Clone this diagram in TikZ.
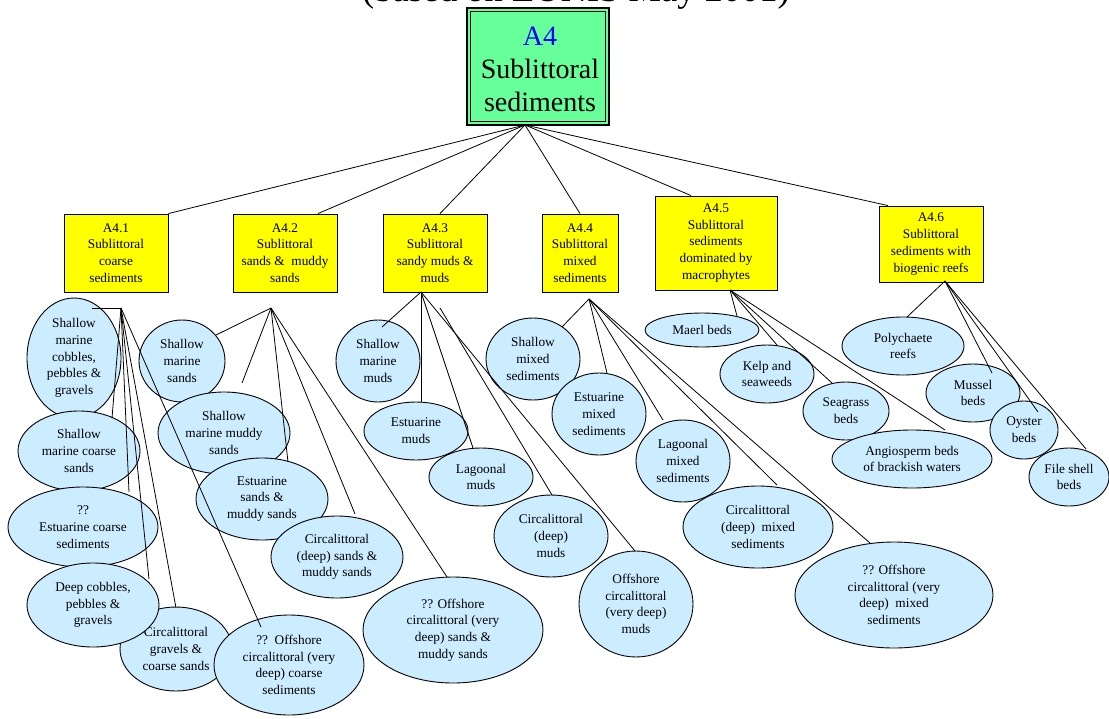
\documentclass[tikz,border=0pt]{standalone}
\usepackage{fontspec}
\setmainfont{Liberation Serif}
\usetikzlibrary{shapes.geometric}
\definecolor{boxgreen}{HTML}{66FF99}
\definecolor{boxyellow}{HTML}{FFFF00}
\definecolor{blobblue}{HTML}{CCECFF}
\definecolor{codeblue}{HTML}{0000FF}
\newcommand\habitat[6]{%
  \node[blob, minimum width=#4pt, minimum height=#5pt] (#1) at (#2,#3) {};
  \node[blobtext] (#1-t) at (#1) {#6};}
\begin{document}
\begin{tikzpicture}[x=1pt,y=-1pt,
  catbox/.style={draw=black, fill=boxyellow, line width=0.9pt, inner sep=0pt, align=center,
    font=\fontsize{13.3}{16.7}\selectfont},
  blob/.style={ellipse, draw=black, fill=blobblue, line width=0.9pt, inner sep=0pt, outer sep=0pt},
  blobtext/.style={align=center, inner sep=0pt, font=\fontsize{13.3}{16.7}\selectfont},
  link/.style={draw=black, line width=0.8pt},
]
\useasboundingbox (0,0) rectangle (1109,718);

% title (cut off at the top)
\begin{scope}
\clip (0,0) rectangle (1109,718);
\node[anchor=base, inner sep=0pt, font=\fontsize{36.5}{40}\selectfont] (title) at (576,1.5) {(based on EUNIS May 2001)};
\end{scope}

% top box
\node[draw=black, fill=boxgreen, line width=1.3pt, minimum width=142pt, minimum height=117pt, inner sep=0pt] (a4) at (538,66.5) {};
\draw[line width=1.1pt] ([shift={(4,4)}]a4.north west) rectangle ([shift={(-4,-4)}]a4.south east);
\node[align=center, inner sep=0pt, font=\fontsize{28}{33}\selectfont] (a4t) at (540,69) {\textcolor{codeblue}{A4}\\Sublittoral\\sediments};

% category boxes
\node[catbox, minimum width=104pt, minimum height=78pt] (y1) at (116,253) {A4.1\\Sublittoral\\coarse\\sediments};
\node[catbox, minimum width=104pt, minimum height=78pt] (y2) at (285,253) {A4.2\\Sublittoral\\sands \&\ \ muddy\\sands};
\node[catbox, minimum width=104pt, minimum height=78pt] (y3) at (435,253) {A4.3\\Sublittoral\\sandy muds \&\\muds};
\node[catbox, minimum width=76pt, minimum height=78pt] (y4) at (580,253) {A4.4\\Sublittoral\\mixed\\sediments};
\node[catbox, minimum width=122pt, minimum height=94pt] (y5) at (716,243) {A4.5\\Sublittoral\\sediments\\dominated by\\macrophytes};
\node[catbox, minimum width=104pt, minimum height=76pt] (y6) at (931,244) {A4.6\\Sublittoral\\sediments with\\biogenic reefs};

% column 1
\habitat{c1a}{74}{358}{94}{120}{Shallow\\marine\\cobbles,\\pebbles \&\\gravels}
\habitat{c1b}{79}{451}{122}{80}{Shallow\\marine coarse\\sands}
\habitat{c1c}{83}{527}{150}{80}{??\\Estuarine coarse\\sediments}
\habitat{c1e}{176}{649}{112}{84}{Circalittoral\\gravels \&\\coarse sands}
\habitat{c1d}{93}{605}{132}{84}{Deep cobbles,\\pebbles \&\\gravels}
\habitat{c1f}{289}{665}{150}{100}{??\ \ Offshore\\circalittoral (very\\deep) coarse\\sediments}

% column 2
\habitat{c2a}{182}{361}{86}{82}{Shallow\\marine\\sands}
\habitat{c2b}{224}{433}{132}{82}{Shallow\\marine muddy\\sands}
\habitat{c2c}{262}{499}{132}{82}{Estuarine\\sands \&\\muddy sands}
\habitat{c2d}{337}{557}{132}{82}{Circalittoral\\(deep) sands \&\\muddy sands}
\habitat{c2e}{453}{630}{180}{106}{?? Offshore\\circalittoral (very\\deep) sands \&\\muddy sands}

% column 3
\habitat{c3a}{378}{361}{84}{82}{Shallow\\marine\\muds}
\habitat{c3b}{416}{431}{104}{58}{Estuarine\\muds}
\habitat{c3c}{481}{477}{104}{58}{Lagoonal\\muds}
\habitat{c3d}{551}{536}{114}{82}{Circalittoral\\(deep)\\muds}
\habitat{c3e}{636}{604}{114}{106}{Offshore\\circalittoral\\(very deep)\\muds}

% column 4
\habitat{c4a}{533}{359}{94}{82}{Shallow\\mixed\\sediments}
\habitat{c4b}{599}{414}{94}{82}{Estuarine\\mixed\\sediments}
\habitat{c4c}{683}{461}{94}{82}{Lagoonal\\mixed\\sediments}
\habitat{c4d}{758}{527}{150}{82}{Circalittoral\\(deep)\ \ mixed\\sediments}
\habitat{c4e}{894}{595}{198}{106}{?? Offshore\\circalittoral (very\\deep)\ \ mixed\\sediments}

% column 5
\habitat{c5a}{702}{330}{114}{34}{Maerl beds}
\habitat{c5b}{767}{374}{94}{58}{Kelp and\\seaweeds}
\habitat{c5c}{846}{411}{86}{58}{Seagrass\\beds}
\habitat{c5d}{912}{459}{160}{58}{Angiosperm beds\\of brackish waters}

% column 6
\habitat{c6a}{903}{346}{122}{58}{Polychaete\\reefs}
\habitat{c6b}{973}{393}{94}{58}{Mussel\\beds}
\habitat{c6c}{1024}{430}{68}{58}{Oyster\\beds}
\habitat{c6d}{1069}{477}{80}{58}{File shell\\beds}

% fan points and connector ends
\coordinate (a4f) at (525,125);
\coordinate (f1) at (121,308);
\coordinate (f2) at (271,308);
\coordinate (f3) at (421,292);
\coordinate (s3) at (440,308);
\coordinate (f4) at (589,299);
\coordinate (f5) at (730,290);
\coordinate (f6) at (945,281);
\coordinate (free2) at (242,383);

\coordinate (c1a-in) at (92,308);
\coordinate (c1b-in) at (112,418);
\coordinate (c1c-in) at (129,492);
\coordinate (c1d-in) at (149,579);
\coordinate (c1e-in) at (176,608);
\coordinate (c1f-in) at (261,627);
\coordinate (c2a-in) at (216,335);
\coordinate (c2c-in) at (288,462);
\coordinate (c2d-in) at (355,514);
\coordinate (c2e-in) at (447,577);
\coordinate (c3a-in) at (382,327);
\coordinate (c3b-in) at (421,402);
\coordinate (c3c-in) at (473,448);
\coordinate (c3d-in) at (552,495);
\coordinate (c3e-in) at (635,551);
\coordinate (c4a-in) at (562,327);
\coordinate (c4b-in) at (607,373);
\coordinate (c4c-in) at (663,420);
\coordinate (c4d-in) at (777,485);
\coordinate (c4e-in) at (870,543);
\coordinate (c5a-in) at (737,316);
\coordinate (c5b-in) at (777,345);
\coordinate (c5c-in) at (832,383);
\coordinate (c5d-in) at (945,430);
\coordinate (c6a-in) at (907,317);
\coordinate (c6b-in) at (992,373);
\coordinate (c6c-in) at (1038,412);
\coordinate (c6d-in) at (1086,449);

% top connectors
\draw[link] (a4f) -- (y1.north east);
\draw[link] (a4f) -- ([xshift=33pt]y2.north);
\draw[link] (a4f) -- ([xshift=5pt]y3.north);
\draw[link] (a4f) -- (y4.north);
\draw[link] (a4f) -- ([xshift=-25pt]y5.north);
\draw[link] (a4f) -- ([xshift=-43pt]y6.north);

% column connectors
\foreach \e in {c1a,c1b,c1c,c1d,c1e,c1f} \draw[link] (f1) -- (\e-in);
\foreach \e in {c2a,c2c,c2d,c2e} \draw[link] (f2) -- (\e-in);
\draw[link] (f2) -- (free2);
\foreach \e in {c3a,c3b,c3c,c3e} \draw[link] (f3) -- (\e-in);
\draw[link] (s3) -- (c3d-in);
\foreach \e in {c4a,c4b,c4c,c4d,c4e} \draw[link] (f4) -- (\e-in);
\foreach \e in {c5a,c5b,c5c,c5d} \draw[link] (f5) -- (\e-in);
\foreach \e in {c6a,c6b,c6c,c6d} \draw[link] (f6) -- (\e-in);
\end{tikzpicture}
\end{document}
